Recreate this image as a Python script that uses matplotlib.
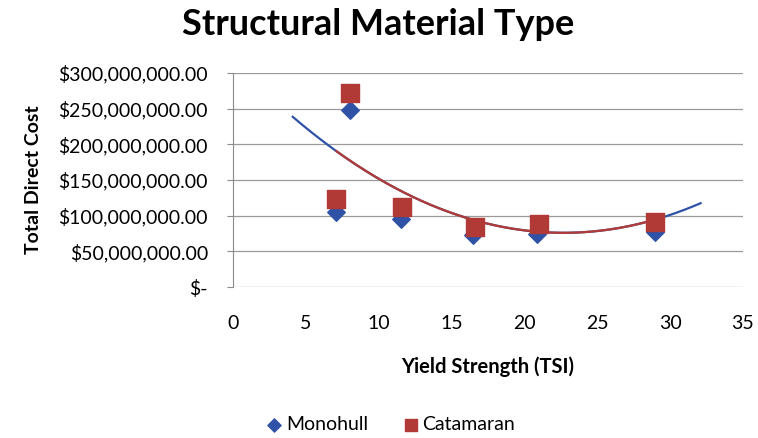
import numpy as np
import matplotlib
matplotlib.use("Agg")
import matplotlib.pyplot as plt
from matplotlib.ticker import FuncFormatter

plt.rcParams['font.family'] = ['Lato', 'DejaVu Sans']

# data (yield strength in TSI, cost in $)
mono_x = [8.0, 7.1, 11.5, 16.5, 20.9, 29.0]
mono_y = [248e6, 105e6, 96e6, 73e6, 75e6, 77e6]
cat_x = [8.0, 7.1, 11.6, 16.6, 21.0, 29.0]
cat_y = [272e6, 124e6, 112e6, 84e6, 89e6, 91e6]

# quadratic trendlines: a*(x - x0)**2 + y0
mono_trend = [0.47e6, 22.7, 76e6]
mono_trend_range = [4.1, 32.1]
cat_trend = [0.47e6, 22.7, 76e6]
cat_trend_range = [7.1, 29.0]

blue = '#2F52A6'
red = '#B23A36'


def money(v, pos):
    if v == 0:
        return '$-'
    return '${:,.2f}'.format(v)


def trend(c, x):
    return c[0] * (x - c[1]) ** 2 + c[2]


fig = plt.figure(figsize=(7.58, 4.38), dpi=100)
ax = fig.add_axes([0.3074, 0.3447, 0.6726, 0.4886])

xm = np.linspace(mono_trend_range[0], mono_trend_range[1], 200)
ax.plot(xm, trend(mono_trend, xm), color=blue, lw=1.6, zorder=2)
xc = np.linspace(cat_trend_range[0], cat_trend_range[1], 200)
ax.plot(xc, trend(cat_trend, xc), color=red, lw=1.6, zorder=3)

ax.scatter(mono_x, mono_y, marker='D', s=80, color=blue, zorder=4, label='Monohull')
ax.scatter(cat_x, cat_y, marker='s', s=150, color=red, zorder=5, label='Catamaran')

ax.set_xlim(0, 35)
ax.set_ylim(0, 300e6)
ax.set_xticks(range(0, 36, 5))
ax.set_yticks(np.arange(0, 300e6 + 1, 50e6))
ax.yaxis.set_major_formatter(FuncFormatter(money))
ax.grid(axis='y', color='#9A9A9A', lw=0.9)
ax.set_axisbelow(True)
for s in ['top', 'right', 'bottom']:
    ax.spines[s].set_visible(False)
ax.spines['left'].set_color('#8A8A8A')
ax.tick_params(axis='y', length=4, color='#8A8A8A', labelsize=14, pad=14)
ax.tick_params(axis='x', length=0, labelsize=14, pad=20)

ax.set_xlabel('Yield Strength (TSI)', fontsize=14.5, fontweight='bold', labelpad=18)
ax.set_ylabel('Total Direct Cost', fontsize=14, fontweight='bold', labelpad=12)
fig.text(0.499, 0.943, 'Structural Material Type', ha='center', va='center',
         fontsize=26, fontweight='bold')

fig.legend(loc='center', bbox_to_anchor=(0.513, 0.03), ncol=2, frameon=False,
           fontsize=14, handletextpad=0.0, columnspacing=1.6,
           markerscale=0.75, handlelength=1.2)

fig.savefig('out.png', dpi=100)
